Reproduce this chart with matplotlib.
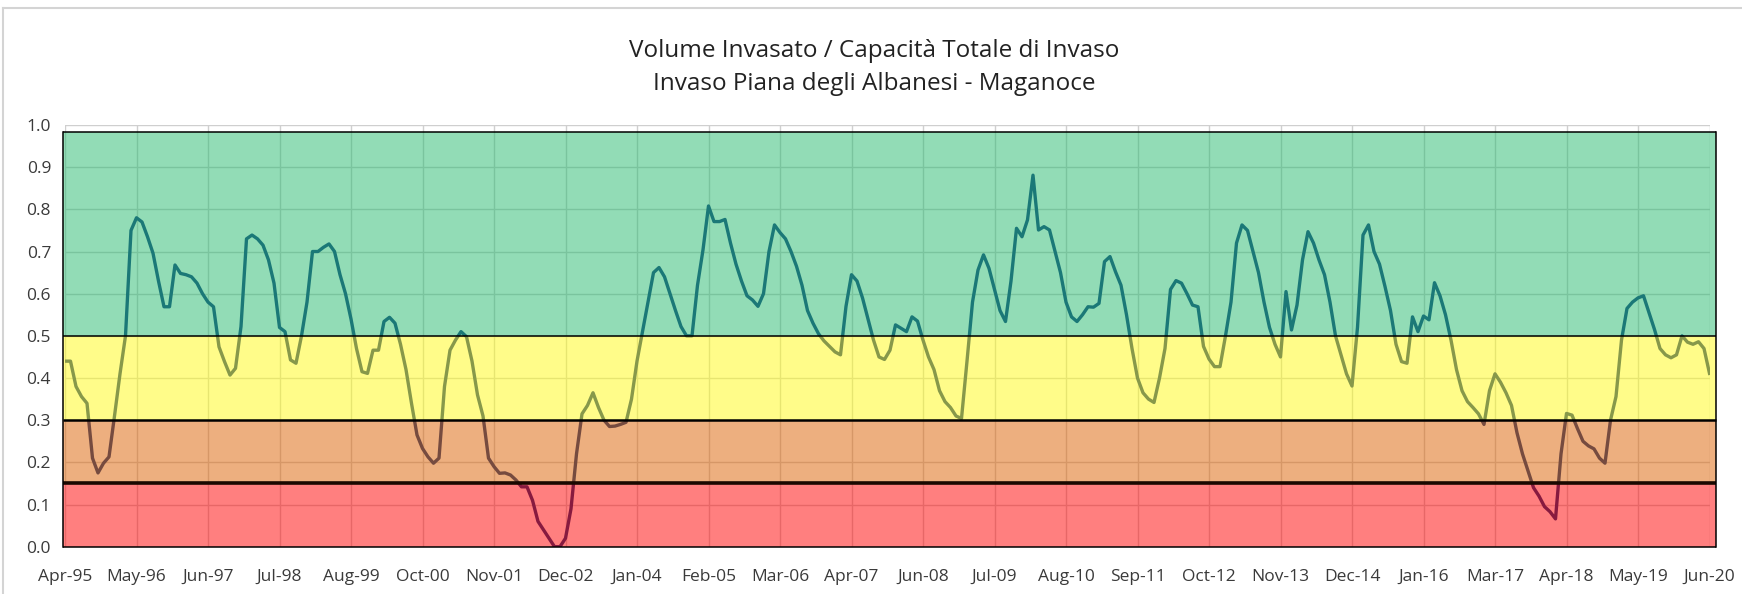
import matplotlib
matplotlib.use("Agg")
import matplotlib.pyplot as plt
from matplotlib.patches import Rectangle
from matplotlib.lines import Line2D

title_lines = ["Volume Invasato / Capacità Totale di Invaso",
               "Invaso Piana degli Albanesi - Maganoce"]

tick_labels = ["Apr-95", "May-96", "Jun-97", "Jul-98", "Aug-99", "Oct-00", "Nov-01",
               "Dec-02", "Jan-04", "Feb-05", "Mar-06", "Apr-07", "Jun-08", "Jul-09",
               "Aug-10", "Sep-11", "Oct-12", "Nov-13", "Dec-14", "Jan-16", "Mar-17",
               "Apr-18", "May-19", "Jun-20"]
tick_step = 13

ratio = [
    0.44, 0.44, 0.38, 0.356, 0.34, 0.21, 0.175, 0.198, 0.213, 0.31,
    0.41, 0.50, 0.75, 0.78, 0.77, 0.735, 0.696, 0.63, 0.569, 0.569,
    0.668, 0.648, 0.645, 0.64, 0.625, 0.60, 0.58, 0.569, 0.474, 0.439,
    0.407, 0.423, 0.522, 0.73, 0.739, 0.73, 0.715, 0.68, 0.625, 0.52,
    0.51, 0.443, 0.435, 0.50, 0.58, 0.70, 0.70, 0.71, 0.718, 0.70,
    0.645, 0.60, 0.54, 0.47, 0.415, 0.411, 0.466, 0.466, 0.534, 0.544,
    0.53, 0.48, 0.42, 0.34, 0.265, 0.233, 0.213, 0.198, 0.21, 0.38,
    0.466, 0.49, 0.51, 0.498, 0.44, 0.36, 0.31, 0.21, 0.19, 0.174,
    0.175, 0.17, 0.158, 0.142, 0.142, 0.11, 0.06, 0.04, 0.02, 0.0,
    0.0, 0.02, 0.09, 0.22, 0.315, 0.335, 0.365, 0.33, 0.30, 0.285,
    0.286, 0.29, 0.295, 0.35, 0.44, 0.51, 0.58, 0.65, 0.662, 0.64,
    0.60, 0.56, 0.522, 0.50, 0.50, 0.62, 0.704, 0.808, 0.771, 0.771,
    0.776, 0.72, 0.67, 0.63, 0.595, 0.585, 0.57, 0.60, 0.70, 0.763,
    0.745, 0.73, 0.70, 0.665, 0.62, 0.56, 0.53, 0.505, 0.488, 0.475,
    0.462, 0.455, 0.57, 0.645, 0.63, 0.59, 0.54, 0.49, 0.45, 0.444,
    0.466, 0.526, 0.518, 0.51, 0.545, 0.535, 0.49, 0.45, 0.42, 0.37,
    0.344, 0.33, 0.31, 0.304, 0.44, 0.58, 0.656, 0.692, 0.66, 0.61,
    0.56, 0.534, 0.63, 0.755, 0.735, 0.775, 0.881, 0.751, 0.759, 0.751,
    0.70, 0.65, 0.58, 0.545, 0.534, 0.55, 0.569, 0.568, 0.577, 0.676,
    0.688, 0.652, 0.62, 0.55, 0.47, 0.40, 0.365, 0.35, 0.342, 0.40,
    0.47, 0.61, 0.631, 0.625, 0.60, 0.573, 0.569, 0.475, 0.445, 0.427,
    0.427, 0.50, 0.58, 0.72, 0.763, 0.75, 0.70, 0.65, 0.58, 0.52,
    0.48, 0.45, 0.605, 0.514, 0.573, 0.68, 0.747, 0.72, 0.68, 0.645,
    0.58, 0.50, 0.455, 0.41, 0.381, 0.52, 0.739, 0.763, 0.70, 0.67,
    0.617, 0.56, 0.48, 0.439, 0.435, 0.545, 0.51, 0.547, 0.538, 0.626,
    0.595, 0.55, 0.49, 0.42, 0.37, 0.344, 0.33, 0.315, 0.29, 0.37,
    0.41, 0.39, 0.365, 0.335, 0.27, 0.22, 0.18, 0.14, 0.12, 0.095,
    0.083, 0.066, 0.22, 0.316, 0.312, 0.28, 0.25, 0.239, 0.232, 0.21,
    0.198, 0.30, 0.356, 0.49, 0.565, 0.58, 0.59, 0.595, 0.555, 0.515,
    0.47, 0.455, 0.448, 0.455, 0.50, 0.485, 0.48, 0.486, 0.47, 0.411,
]

band_edges = [0.0, 0.15, 0.3, 0.5, 0.984]
band_colors = ["#FF0000", "#DD6100", "#FFFB15", "#27BB6F"]
band_line_widths = [1.1, 2.6, 1.8, 1.1, 1.1]

plt.rcParams["font.family"] = ["Open Sans", "DejaVu Sans"]

fig = plt.figure(figsize=(17.42, 5.94), dpi=100)
W, H = 1742, 594
x_left_px, x_right_px = 65, 1709.5
y_bot_px, y_top_px = 546.7, 125
ax = fig.add_axes([x_left_px / W, (H - y_bot_px) / H,
                   (x_right_px - x_left_px) / W, (y_bot_px - y_top_px) / H])

n = len(ratio)
x = list(range(n))
ax.plot(x, ratio, color="#0f3580", lw=2.4, zorder=2, solid_joinstyle="round")

ax.set_xlim(0, n - 1)
ax.set_ylim(0, 1.0)

# bands (semi-transparent, drawn over the line)
bx0, bx1 = -0.3, n - 1 + 1.25
for lo, hi, col in zip(band_edges[:-1], band_edges[1:], band_colors):
    ax.add_patch(Rectangle((bx0, lo), bx1 - bx0, hi - lo, facecolor=col,
                           alpha=0.5, edgecolor="none", zorder=3, clip_on=False))
for v, lw in zip(band_edges, band_line_widths):
    col = "#1a0800" if v == 0.15 else "black"
    ax.plot([bx0, bx1], [v, v], color=col, lw=lw, zorder=4, clip_on=False,
            solid_capstyle="butt")
for xv in (bx0, bx1):
    ax.plot([xv, xv], [band_edges[0], band_edges[-1]], color="black", lw=1.1,
            zorder=4, clip_on=False)

ticks = list(range(0, n, tick_step))
ax.set_xticks(ticks)
ax.set_xticklabels(tick_labels[:len(ticks)])
yt = [i / 10 for i in range(11)]
ax.set_yticks(yt)
ax.set_yticklabels([f"{v:.1f}" for v in yt])
ax.tick_params(axis="both", length=0, labelsize=12.5, labelcolor="#3a3a3a")
ax.tick_params(axis="x", pad=16)
ax.tick_params(axis="y", pad=10)
ax.grid(True, color="#cfcfcf", lw=1.0, zorder=0)
ax.set_axisbelow(True)
for s in ax.spines.values():
    s.set_visible(False)

cx = 0.5 * (624 + 1125) / W
fig.text(cx, 1 - 51 / H, title_lines[0], ha="center", va="center",
         fontsize=17.5, color="#222222")
fig.text(cx, 1 - 84 / H, title_lines[1], ha="center", va="center",
         fontsize=17.5, color="#222222")

# outer chart-area border (top and left visible)
fig.add_artist(Line2D([3 / W, 1.0], [1 - 8 / H, 1 - 8 / H], color="#d4d4d4", lw=1.5))
fig.add_artist(Line2D([3 / W, 3 / W], [0, 1 - 8 / H], color="#d4d4d4", lw=1.5))

fig.savefig("out.png", dpi=100)
